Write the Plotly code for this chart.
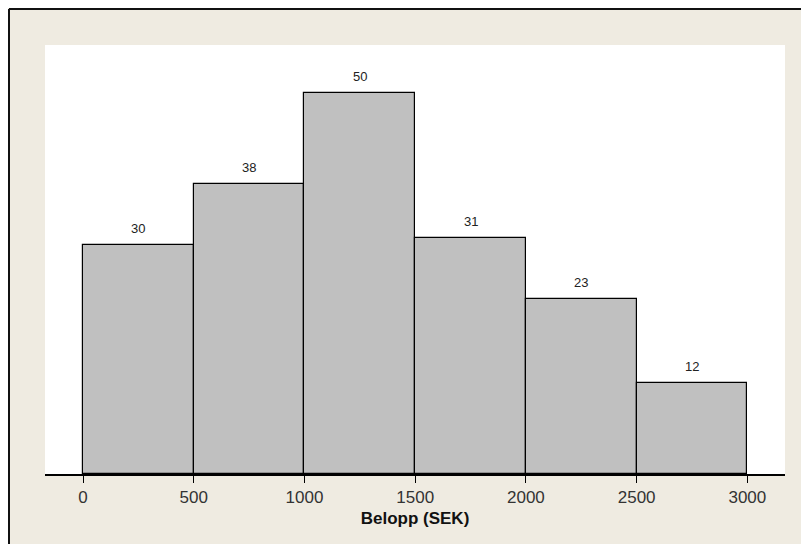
import plotly.graph_objects as go

bin_starts = [0, 500, 1000, 1500, 2000, 2500]
bin_width = 500
counts = [30, 38, 50, 31, 23, 12]
tick_vals = [0, 500, 1000, 1500, 2000, 2500, 3000]
x_title = "Belopp (SEK)"

centers = [s + bin_width / 2 for s in bin_starts]

fig = go.Figure()
fig.add_trace(go.Bar(
    x=centers, y=counts, width=[bin_width] * len(counts),
    marker=dict(color="#C0C0C0", line=dict(color="black", width=1.2)),
    hoverinfo="x+y",
))

for c, v in zip(centers, counts):
    fig.add_annotation(x=c, y=v, text=str(v), showarrow=False,
                       yanchor="bottom", yshift=7,
                       font=dict(family="Liberation Sans", size=13, color="#222"))

PW, PH = 740, 429
# outer frame lines (top and left)
fig.add_shape(type="line", xref="paper", yref="paper",
              x0=-36/PW, x1=1.2, y0=1 + 36/PH, y1=1 + 36/PH,
              line=dict(color="#111", width=2))
fig.add_shape(type="line", xref="paper", yref="paper",
              x0=-36/PW, x1=-36/PW, y0=1 + 36/PH, y1=-0.3,
              line=dict(color="#111", width=2))

fig.update_layout(
    width=809, height=544,
    margin=dict(l=37, r=32, t=37, b=78),
    paper_bgcolor="#EFEBE1",
    plot_bgcolor="white",
    showlegend=False,
    bargap=0,
    font=dict(family="Liberation Sans", color="#222"),
    xaxis=dict(
        range=[-171.6, 3170],
        tickvals=tick_vals,
        ticktext=[str(t) for t in tick_vals],
        showline=True, linecolor="black", linewidth=1.5,
        ticks="outside", ticklen=7, tickcolor="black", tickwidth=1.2,
        showgrid=False, zeroline=False,
        tickfont=dict(size=17, color="#333"),
        title=dict(text="<b>" + x_title + "</b>", font=dict(size=17, color="#111"), standoff=6),
    ),
    yaxis=dict(
        range=[0, 56.3], visible=False, showgrid=False, zeroline=False,
    ),
)

fig.write_html("out.html", config={"displayModeBar": False})
